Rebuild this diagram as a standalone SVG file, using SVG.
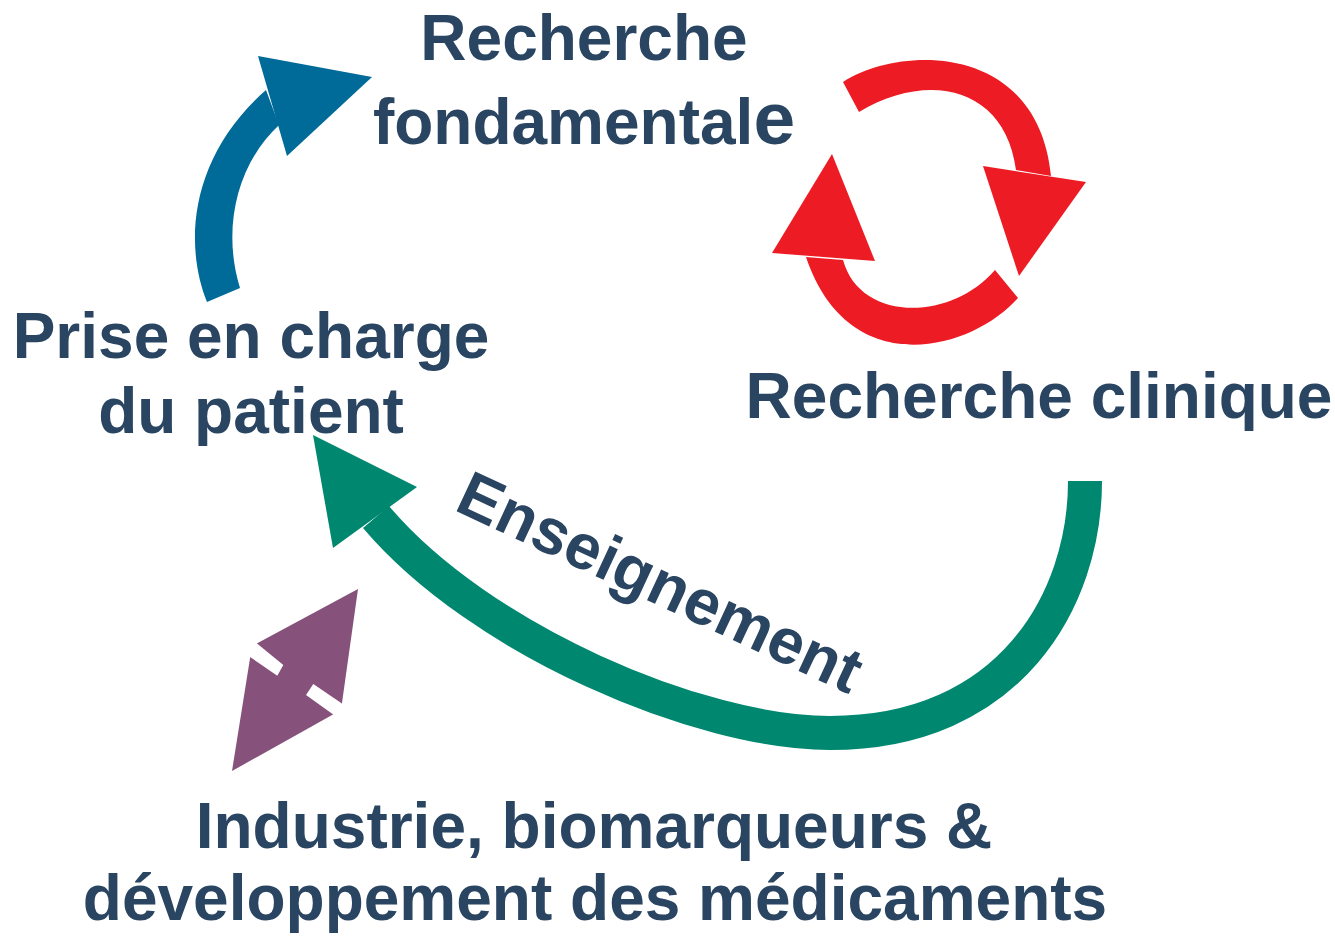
<svg xmlns="http://www.w3.org/2000/svg" width="1335" height="936" viewBox="0 0 1335 936">
<style>
.t{font-family:"Liberation Sans",Arial,Helvetica,sans-serif;font-weight:bold;font-size:64px;fill:#2a4561;text-anchor:middle}
.blue{fill:#006a99}
.red{fill:#ed1c24}
.purple{fill:#86517a}
.green{fill:none;stroke:#00876f;stroke-width:34;stroke-linecap:butt}
.greenf{fill:#00876f}
.gap{fill:#ffffff}
</style>
<rect width="1335" height="936" fill="#ffffff"/>
<g id="connectors">
  <g id="arrow-blue">
    <path class="blue" d="M207,302 C184,245 189,158 266,90 L279,125 C236,165 222,230 240,288 Z"/>
    <polygon class="blue" points="258,56 372,77 287,156"/>
  </g>
  <g id="arrow-red-top">
    <path class="red" d="M843,82 C900,45 1038,42 1051,176 L1016,170 C1005,88 930,70 859,112 Z"/>
    <polygon class="red" points="983,166 1086,182 1019,276"/>
  </g>
  <g id="arrow-red-bottom">
    <path class="red" d="M995,270 L1018,298 C970,352 848,382 806,257 L843,260 C860,322 950,322 995,270 Z"/>
    <polygon class="red" points="772,253 875,261 832,154"/>
  </g>
  <g id="arrow-green">
    <path class="green" d="M1085,481 C1085,600 1010,733 830,733 C700,733 480,640 376,517"/>
    <polygon class="greenf" points="313,435 417,487 333,548"/>
  </g>
  <g id="arrow-purple">
    <polygon class="purple" points="358,589 341,710 232,771 252,646"/>
    <polygon class="gap" points="249,637 283.3,665 277.3,675.7 240.5,650.4"/>
    <polygon class="gap" points="313.3,684 350,709 341.6,720.6 306,695"/>
  </g>
</g>
<g id="node-recherche-fondamentale">
  <text class="t" x="584" y="60">Recherche</text>
  <text class="t" x="584" y="144">fondamental<tspan font-size="75">e</tspan></text>
</g>
<g id="node-prise-en-charge">
  <text class="t" x="251" y="358">Prise en charge</text>
  <text class="t" x="251" y="433">du patient</text>
</g>
<g id="node-recherche-clinique">
  <text class="t" x="1039" y="418">Recherche clinique</text>
</g>
<g id="label-enseignement">
  <text class="t" transform="translate(651,602) rotate(25)" x="0" y="0">Enseignement</text>
</g>
<g id="node-industrie">
  <text class="t" x="594" y="848">Industrie, biomarqueurs &amp;</text>
  <text class="t" x="595" y="920">développement des médicaments</text>
</g>
</svg>
